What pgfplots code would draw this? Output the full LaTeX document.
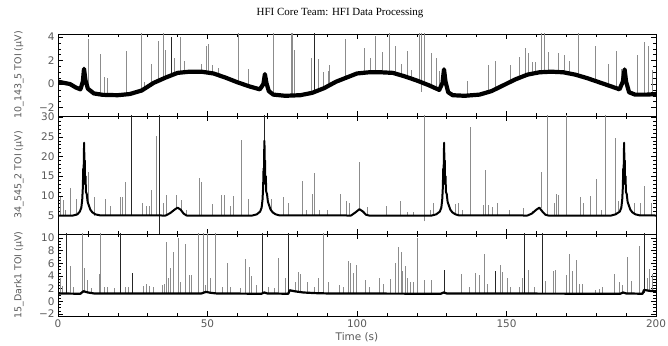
\documentclass[border=0pt]{standalone}
\usepackage{fontspec}
\setmainfont{DejaVu Sans}
\newfontfamily\titlefont{Liberation Serif}
\usepackage{pgfplots}
\pgfplotsset{compat=1.18}
\pgfplotsset{
 panel/.style={scale only axis, width=598bp, anchor=south west,
  xmin=0, xmax=200, xtick={0,50,100,150,200}, minor x tick num=4,
  axis line style={line width=0.7bp}, tick style={black, line width=0.5bp},
  major tick length=5bp, minor tick length=2.8bp,
  tick label style={font=\fontsize{10.5}{12}\selectfont, text=black!65},
  every axis y label/.style={at={(axis description cs:-0.0652,0.5)}, anchor=center, rotate=90, font=\fontsize{9.5}{11}\selectfont, text=black!65},
  every axis x label/.style={at={(axis description cs:0.5,0)}, anchor=center, yshift=-21bp, font=\fontsize{10.5}{12}\selectfont, text=black!65},
  unbounded coords=jump},
 spk/.style={black!45, line width=0.7bp},
 dspk/.style={black!85, line width=0.8bp}
}
\begin{document}
\begin{tikzpicture}
\path[use as bounding box] (0bp,0bp) rectangle (668bp,346bp);
\node[font=\titlefont\fontsize{11}{12}\selectfont] at (340bp,333bp) {HFI Core Team: HFI Data Processing};

% ---------------- Panel 1 ----------------
\begin{axis}[panel, at={(58bp,230bp)}, height=82bp, ymin=-2.72, ymax=4.26,
  ytick={-2,0,2,4}, yticklabels={−2,0,2,4}, minor y tick num=3, xticklabels={},
  ylabel={10\_143\_5 TOI (μV)}]
\addplot[spk] coordinates {
(10.2,-0.5)(10.2,3.8)(10.2,nan) (14.3,-0.9)(14.3,2.55)(14.3,nan) (15.4,-0.9)(15.4,0.6)(15.4,nan)
(16.5,-0.9)(16.5,0.55)(16.5,nan) (23.0,-0.9)(23.0,2.85)(23.0,nan) (27.8,-0.6)(27.8,4.5)(27.8,nan)
(29.0,-0.45)(29.0,0.2)(29.0,nan) (31.2,0)(31.2,1.7)(31.2,nan) (33.4,0.2)(33.4,3.65)(33.4,nan)
(35.3,0.45)(35.3,4.5)(35.3,nan) (35.9,0.5)(35.9,2.9)(35.9,nan) (39.0,0.9)(39.0,2.2)(39.0,nan)
(40.9,1.0)(40.9,4.0)(40.9,nan) (42.4,1.0)(42.4,2.0)(42.4,nan) (47.9,1.05)(47.9,1.7)(47.9,nan)
(49.5,1.0)(49.5,3.2)(49.5,nan) (50.4,1.0)(50.4,3.45)(50.4,nan) (51.7,0.9)(51.7,1.6)(51.7,nan)
(53.5,0.8)(53.5,1.4)(53.5,nan) (60.2,0.15)(60.2,4.5)(60.2,nan) (63.6,-0.15)(63.6,1.3)(63.6,nan)
(72.1,-0.9)(72.1,4.5)(72.1,nan) (78.0,-1.0)(78.0,4.5)(78.0,nan) (78.5,-1.0)(78.5,4.5)(78.5,nan)
(78.9,-1.0)(78.9,2.9)(78.9,nan) (84.7,-0.75)(84.7,2.2)(84.7,nan) (87.2,-0.5)(87.2,2.1)(87.2,nan)
(88.8,-0.35)(88.8,1.0)(88.8,nan) (90.3,-0.15)(90.3,1.1)(90.3,nan) (90.6,-0.1)(90.6,1.6)(90.6,nan)
(96.1,0.5)(96.1,3.8)(96.1,nan) (102.3,0.95)(102.3,3.1)(102.3,nan) (104.5,1.0)(104.5,2.2)(104.5,nan)
(106.2,1.0)(106.2,4.1)(106.2,nan) (108.4,1.0)(108.4,2.75)(108.4,nan) (110.7,1.0)(110.7,4.5)(110.7,nan)
(112.7,0.9)(112.7,3.2)(112.7,nan) (114.8,0.8)(114.8,1.7)(114.8,nan) (116.8,0.6)(116.8,2.85)(116.8,nan)
(118.3,0.45)(118.3,1.2)(118.3,nan) (120.9,0.2)(120.9,4.5)(120.9,nan) (121.6,-0.65)(121.6,4.5)(121.6,nan)
(122.4,0.1)(122.4,4.5)(122.4,nan) (124.9,-0.1)(124.9,2.6)(124.9,nan) (126.6,-0.3)(126.6,2.2)(126.6,nan)
(127.5,-0.5)(127.5,1.1)(127.5,nan) (137.0,-1.0)(137.0,0.3)(137.0,nan) (143.9,-0.7)(143.9,1.6)(143.9,nan)
(146.4,-0.45)(146.4,2.0)(146.4,nan) (151.4,0.2)(151.4,1.6)(151.4,nan) (154.2,0.5)(154.2,2.3)(154.2,nan)
(156.2,0.7)(156.2,3.1)(156.2,nan) (157.3,0.8)(157.3,2.6)(157.3,nan) (158.6,0.85)(158.6,1.9)(158.6,nan)
(159.7,0.95)(159.7,1.9)(159.7,nan) (161.8,1.0)(161.8,4.5)(161.8,nan) (162.6,1.0)(162.6,4.5)(162.6,nan)
(164.1,1.05)(164.1,2.7)(164.1,nan) (167.3,1.0)(167.3,2.6)(167.3,nan) (169.3,1.0)(169.3,2.5)(169.3,nan)
(171.0,0.9)(171.0,2.0)(171.0,nan) (173.9,0.75)(173.9,4.5)(173.9,nan) (179.7,0.25)(179.7,3.2)(179.7,nan)
(184.2,-0.15)(184.2,1.7)(184.2,nan) (186.8,-0.35)(186.8,2.85)(186.8,nan) (188.3,-0.4)(188.3,1.3)(188.3,nan)
(193.7,-0.9)(193.7,2.5)(193.7,nan) (196.1,-0.9)(196.1,3.55)(196.1,nan) (197.6,-0.9)(197.6,3.2)(197.6,nan)
(198.7,-0.9)(198.7,1.2)(198.7,nan)
};
\addplot[dspk] coordinates {(38.0,0.85)(38.0,4.0)(38.0,nan) (85.7,-0.7)(85.7,4.5)(85.7,nan)};
\addplot[black, line width=4.2bp, line join=round] coordinates {
(0,0.2) (2,0.1) (4,0.0) (6,-0.3) (7.5,-0.45) (8.3,0.2) (8.7,1.3) (9.2,0.3) (10,-0.4) (12,-0.8)
(15,-0.92) (20,-0.95) (24,-0.85) (28,-0.55) (32,0.1) (36,0.55) (40,0.95) (44,1.05) (48,1.05)
(52,0.9) (56,0.55) (60,0.15) (64,-0.2) (67.5,-0.45) (68.7,0) (69.2,0.85) (69.7,0.1) (70.5,-0.6)
(72,-0.9) (76,-1.0) (81,-0.95) (85,-0.75) (89,-0.35) (93,0.2) (97,0.6) (100,0.9) (104,1.0)
(108,1.0) (112,0.95) (116,0.65) (120,0.3) (124,-0.1) (127.5,-0.5) (128.6,0.1) (129.1,1.25)
(129.6,0.2) (130.5,-0.7) (132,-0.95) (136,-1.0) (141,-0.9) (145,-0.6) (149,-0.1) (153,0.4)
(157,0.8) (161,1.0) (165,1.05) (169,1.0) (173,0.8) (177,0.5) (181,0.15) (185,-0.2) (187.8,-0.45)
(188.9,0.2) (189.5,1.25) (190,0.2) (191,-0.7) (193,-0.9) (197,-0.9) (200,-0.85)
};
\end{axis}

% ---------------- Panel 2 ----------------
\begin{axis}[panel, at={(58bp,112bp)}, height=118bp, ymin=0.3, ymax=30.3,
  ytick={5,10,15,20,25,30}, yticklabels={5,10,15,20,25,30}, minor y tick num=4, xticklabels={},
  ylabel={34\_545\_2 TOI (μV)}]
\addplot[spk] coordinates {
(0.7,5)(0.7,9.8)(0.7,nan) (1.7,5)(1.7,9.0)(1.7,nan) (2.5,5)(2.5,6.5)(2.5,nan) (4.0,5)(4.0,12.1)(4.0,nan)
(6.2,5)(6.2,9.3)(6.2,nan) (10.1,8)(10.1,16)(10.1,nan) (12.3,5)(12.3,9.7)(12.3,nan) (15.7,5)(15.7,9.3)(15.7,nan)
(17.4,5)(17.4,7.5)(17.4,nan) (20.7,5)(20.7,9.8)(20.7,nan) (21.5,5)(21.5,9.8)(21.5,nan) (22.4,5)(22.4,13.6)(22.4,nan)
(28.3,5)(28.3,8.3)(28.3,nan) (29.5,5)(29.5,7.3)(29.5,nan) (30.6,5)(30.6,7.3)(30.6,nan) (31.2,5)(31.2,11.5)(31.2,nan)
(32.8,5)(32.8,25.3)(32.8,nan) (35.2,5)(35.2,8.3)(35.2,nan) (36.3,5)(36.3,10.1)(36.3,nan) (39.7,6.8)(39.7,10.2)(39.7,nan)
(41.3,6.2)(41.3,9)(41.3,nan) (43,5)(43,6.5)(43,nan) (47.2,5)(47.2,14.5)(47.2,nan) (48,5)(48,13.6)(48,nan)
(51.5,5)(51.5,7.8)(51.5,nan) (54.6,5)(54.6,10.2)(54.6,nan) (55.8,5)(55.8,10.2)(55.8,nan) (57.5,5)(57.5,7.5)(57.5,nan)
(58.5,5)(58.5,10)(58.5,nan) (61.2,5)(61.2,24.2)(61.2,nan) (63.8,5)(63.8,9.3)(63.8,nan) (71.5,6.2)(71.5,9.2)(71.5,nan)
(75.3,5)(75.3,9.7)(75.3,nan) (77,5)(77,8.2)(77,nan) (81.6,5)(81.6,13.7)(81.6,nan) (83.2,5)(83.2,6.5)(83.2,nan)
(85,5)(85,10.4)(85,nan) (85.9,5)(85.9,15.9)(85.9,nan) (87.5,5)(87.5,6.5)(87.5,nan) (90,5)(90,6.5)(90,nan)
(94.5,5)(94.5,10.4)(94.5,nan) (96.5,5)(96.5,8.6)(96.5,nan) (97.3,5)(97.3,8.2)(97.3,nan) (100.8,6.5)(100.8,18.5)(100.8,nan)
(103.5,5)(103.5,7.2)(103.5,nan) (109.8,5)(109.8,7.3)(109.8,nan) (114.6,5)(114.6,8.8)(114.6,nan) (117,5)(117,6)(117,nan)
(119,5)(119,5.8)(119,nan) (122.6,3.5)(122.6,31)(122.6,nan) (124.5,5)(124.5,6.5)(124.5,nan) (125.5,5)(125.5,8.3)(125.5,nan)
(132.8,5.2)(132.8,8.0)(132.8,nan) (133.8,5)(133.8,8.3)(133.8,nan) (135.2,5)(135.2,6.5)(135.2,nan) (138,5)(138,27.6)(138,nan)
(142.3,5)(142.3,7.6)(142.3,nan) (143,5)(143,16.6)(143,nan) (143.9,5)(143.9,7.7)(143.9,nan) (145.3,5)(145.3,7.2)(145.3,nan)
(147.1,5)(147.1,8.3)(147.1,nan) (150.8,5)(150.8,6.5)(150.8,nan) (155.8,5)(155.8,6.8)(155.8,nan) (158.6,5.5)(158.6,6.2)(158.6,nan)
(161.7,6.8)(161.7,16)(161.7,nan) (163.7,5)(163.7,31)(163.7,nan) (166,5)(166,8.3)(166,nan) (166.7,5)(166.7,10.4)(166.7,nan)
(167.5,5)(167.5,10.2)(167.5,nan) (170.1,5)(170.1,31)(170.1,nan) (174.7,5)(174.7,9.6)(174.7,nan) (175.8,5)(175.8,8.2)(175.8,nan)
(178.1,5)(178.1,10)(178.1,nan) (179.9,5)(179.9,14.3)(179.9,nan) (181.8,5)(181.8,6.5)(181.8,nan) (183.2,5)(183.2,31)(183.2,nan)
(186.3,5.4)(186.3,24.6)(186.3,nan) (187.4,6.2)(187.4,8.8)(187.4,nan) (192.7,5.5)(192.7,8.2)(192.7,nan) (194.9,5)(194.9,8.3)(194.9,nan)
(196.1,5)(196.1,12.6)(196.1,nan) (198.4,5)(198.4,8.3)(198.4,nan)
};
\addplot[dspk] coordinates {(24.5,5)(24.5,31)(24.5,nan) (33.9,0)(33.9,31)(33.9,nan) (69.1,20)(69.1,31)(69.1,nan)};
\addplot[black, line width=2bp, line join=round] coordinates {
(0,5.0) (5,5) (6.5,5.3) (7.3,6) (7.8,7) (8.1,9) (8.3,12) (8.45,17) (8.55,13) (8.65,21) (8.75,23.5)
(8.85,15) (8.95,19) (9.05,13) (9.2,15) (9.35,11) (9.6,10.5) (9.9,8.5) (10.3,7.6) (10.8,6.5) (11.5,5.8)
(12.5,5.3) (14,5.05) (36,5) (37.5,5.6) (39,6.5) (40,7) (41,6.5) (42,5.5) (43,5)
(65,5) (66.5,5.3) (67.6,6) (68.1,7) (68.4,9) (68.6,12) (68.75,17) (68.85,13) (68.95,21) (69.05,24)
(69.15,15) (69.25,19) (69.35,13) (69.5,15) (69.65,11) (69.9,10.5) (70.2,8.5) (70.6,7.6) (71.1,6.5) (71.8,5.8)
(72.8,5.3) (74,5.05) (98,5) (99.5,5.8) (100.8,6.6) (102,6.0) (103,5.2) (104,5)
(125,5) (126.5,5.3) (127.7,6) (128.2,7) (128.5,9) (128.7,12) (128.85,17) (128.95,13) (129.05,21) (129.15,23.5)
(129.25,15) (129.35,19) (129.45,13) (129.6,15) (129.75,11) (130,10.5) (130.3,8.5) (130.7,7.6) (131.2,6.5) (131.9,5.8)
(132.9,5.3) (134,5.05) (157,5) (158.5,5.5) (160,6.5) (161,7) (162,6) (163,5.2) (164,5)
(185,5) (186.5,5.3) (187.9,6) (188.4,7) (188.7,9) (188.9,12) (189.05,17) (189.15,13) (189.25,21) (189.35,23.5)
(189.45,15) (189.55,19) (189.65,13) (189.8,15) (189.95,11) (190.2,10.5) (190.5,8.5) (190.9,7.6) (191.4,6.5) (192.1,5.8)
(193.1,5.3) (194.5,5.05) (200,5)
};
\end{axis}

% ---------------- Panel 3 ----------------
\begin{axis}[panel, at={(58bp,30bp)}, height=82bp, ymin=-2.3, ymax=10.6,
  ytick={-2,0,2,4,6,8,10}, yticklabels={−2,0,2,4,6,8,10}, minor y tick num=3,
  xticklabels={0,50,100,150,200}, xlabel={Time (s)},
  ylabel={15\_Dark1 TOI (μV)}]
\addplot[spk] coordinates {
(0.7,1.25)(0.7,3.75)(0.7,nan) (1.5,1.25)(1.5,2.4)(1.5,nan) (4.0,1.25)(4.0,5.6)(4.0,nan) (5.2,1.25)(5.2,2.3)(5.2,nan)
(8.8,1.4)(8.8,5.3)(8.8,nan) (9.9,1.3)(9.9,3.3)(9.9,nan) (11.3,1.25)(11.3,2.1)(11.3,nan) (13.8,1.25)(13.8,4.3)(13.8,nan)
(14.3,1.25)(14.3,11)(14.3,nan) (8.2,1.25)(8.2,11)(8.2,nan)
(15.5,1.25)(15.5,2.2)(15.5,nan) (16.5,1.25)(16.5,2.2)(16.5,nan) (19,1.25)(19,2.1)(19,nan) (22.5,1.25)(22.5,2.2)(22.5,nan)
(23.6,1.25)(23.6,2.3)(23.6,nan) (28.4,1.25)(28.4,2.4)(28.4,nan) (29.7,1.25)(29.7,2.8)(29.7,nan) (30.5,1.25)(30.5,2.4)(30.5,nan)
(31.8,1.25)(31.8,2.2)(31.8,nan) (34.9,1.25)(34.9,2.5)(34.9,nan) (35.7,1.25)(35.7,2.7)(35.7,nan) (36.1,1.25)(36.1,9.3)(36.1,nan)
(36.8,1.25)(36.8,3.7)(36.8,nan) (37.6,1.25)(37.6,5.3)(37.6,nan) (38.6,1.25)(38.6,7.8)(38.6,nan) (40.3,1.25)(40.3,9.9)(40.3,nan)
(41,1.25)(41,3.1)(41,nan) (42.5,1.25)(42.5,9.0)(42.5,nan) (43.9,1.25)(43.9,4.1)(43.9,nan) (44.7,1.25)(44.7,4.2)(44.7,nan)
(47.0,1.25)(47.0,11)(47.0,nan) (48.5,1.25)(48.5,11)(48.5,nan) (49.3,1.25)(49.3,2.5)(49.3,nan) (50.1,1.3)(50.1,11)(50.1,nan)
(50.9,1.3)(50.9,3.6)(50.9,nan) (52.6,1.25)(52.6,11)(52.6,nan) (54.8,1.25)(54.8,2.2)(54.8,nan) (56.5,1.25)(56.5,6.1)(56.5,nan)
(57.8,1.25)(57.8,2.2)(57.8,nan) (61,1.25)(61,2.1)(61,nan) (62.6,1.25)(62.6,6.6)(62.6,nan) (64,1.25)(64,5.4)(64,nan)
(64.8,1.25)(64.8,4.0)(64.8,nan) (66.5,1.25)(66.5,2.5)(66.5,nan) (70.5,1.25)(70.5,2.2)(70.5,nan) (72.2,1.25)(72.2,2.1)(72.2,nan)
(73.6,1.25)(73.6,6.9)(73.6,nan) (76,1.25)(76,3.7)(76,nan) (79.3,1.6)(79.3,3.0)(79.3,nan) (80.3,1.5)(80.3,4.6)(80.3,nan)
(81.2,1.4)(81.2,4.3)(81.2,nan) (83.3,1.35)(83.3,3.0)(83.3,nan) (85.8,1.3)(85.8,2.2)(85.8,nan) (87.2,1.3)(87.2,3.6)(87.2,nan)
(88.9,1.25)(88.9,11)(88.9,nan)
(90.5,1.25)(90.5,3.1)(90.5,nan) (94.2,1.25)(94.2,2.6)(94.2,nan) (95.6,1.25)(95.6,2.3)(95.6,nan) (97.1,1.25)(97.1,6.4)(97.1,nan)
(97.9,1.25)(97.9,6.0)(97.9,nan) (98.8,1.25)(98.8,4.5)(98.8,nan) (99.7,1.25)(99.7,5.8)(99.7,nan) (102.7,1.25)(102.7,3.3)(102.7,nan)
(104.1,1.25)(104.1,2.2)(104.1,nan) (107.4,1.25)(107.4,3.7)(107.4,nan) (108.9,1.25)(108.9,2.8)(108.9,nan) (111.1,1.25)(111.1,3.5)(111.1,nan)
(112.7,1.25)(112.7,6.1)(112.7,nan) (113.8,1.25)(113.8,8.5)(113.8,nan) (114.8,1.25)(114.8,7.7)(114.8,nan) (115.3,1.25)(115.3,4.8)(115.3,nan)
(116.1,1.25)(116.1,5.6)(116.1,nan) (116.9,1.25)(116.9,3.7)(116.9,nan) (117.8,1.25)(117.8,3.0)(117.8,nan) (119,1.25)(119,3.0)(119,nan)
(120.2,1.25)(120.2,9.9)(120.2,nan)
(122.5,1.25)(122.5,3.3)(122.5,nan) (124.7,1.25)(124.7,3.3)(124.7,nan) (135,1.25)(135,4.3)(135,nan) (137.6,1.25)(137.6,2.2)(137.6,nan)
(139.5,1.25)(139.5,4.4)(139.5,nan) (140.8,1.25)(140.8,4.2)(140.8,nan) (142.5,1.25)(142.5,7.4)(142.5,nan) (143.6,1.25)(143.6,2.8)(143.6,nan)
(147.8,1.25)(147.8,5.7)(147.8,nan) (148.6,1.25)(148.6,4.6)(148.6,nan) (150.3,1.25)(150.3,3.7)(150.3,nan) (151.4,1.25)(151.4,2.2)(151.4,nan)
(154.2,1.25)(154.2,2.3)(154.2,nan) (155.3,1.25)(155.3,3.6)(155.3,nan) (157.4,1.25)(157.4,5.0)(157.4,nan) (159.3,1.25)(159.3,2.2)(159.3,nan)
(163,1.25)(163,3.2)(163,nan) (165.5,1.25)(165.5,4.8)(165.5,nan) (166.2,1.25)(166.2,4.9)(166.2,nan) (170.1,1.25)(170.1,4.1)(170.1,nan)
(171,1.25)(171,7.4)(171,nan) (172.1,1.25)(172.1,4.8)(172.1,nan) (173.5,1.25)(173.5,6.5)(173.5,nan) (174.3,1.25)(174.3,2.7)(174.3,nan)
(175.4,1.25)(175.4,2.7)(175.4,nan) (179.6,1.25)(179.6,1.8)(179.6,nan) (181,1.25)(181,2.0)(181,nan) (182.1,1.25)(182.1,2.2)(182.1,nan)
(186,1.25)(186,4.3)(186,nan) (187.6,1.25)(187.6,3.0)(187.6,nan) (188.7,1.25)(188.7,2.6)(188.7,nan) (190.5,1.25)(190.5,7.0)(190.5,nan)
(191.9,1.25)(191.9,3.2)(191.9,nan) (194.4,1.25)(194.4,8.7)(194.4,nan) (197.2,1.7)(197.2,3.7)(197.2,nan) (197.7,1.7)(197.7,5.1)(197.7,nan)
(198.8,1.65)(198.8,4.3)(198.8,nan)
};
\addplot[dspk] coordinates {
(2.9,1.25)(2.9,11)(2.9,nan) (20.8,1.25)(20.8,11)(20.8,nan) (24.9,1.25)(24.9,4.5)(24.9,nan) (68.2,1.25)(68.2,11)(68.2,nan)
(77.2,1.25)(77.2,11)(77.2,nan) (129.3,1.25)(129.3,4.9)(129.3,nan) (146.4,1.25)(146.4,4.8)(146.4,nan)
(155.9,1.25)(155.9,11)(155.9,nan) (162,1.25)(162,11)(162,nan) (196.1,1.25)(196.1,11)(196.1,nan)
};
\addplot[black, line width=2.2bp, line join=round] coordinates {
(0,1.25) (7.5,1.2) (8.5,1.6) (10,1.4) (12,1.25) (48,1.25) (49.5,1.5) (51,1.35) (53,1.25) (68,1.2)
(69,1.4) (70,1.25) (77,1.2) (77.5,1.75) (79,1.6) (82,1.4) (86,1.3) (90,1.25) (128,1.2) (129,1.4)
(130,1.25) (188,1.2) (189,1.4) (190,1.25) (195.5,1.2) (196,1.8) (198,1.65) (200,1.6)
};
\end{axis}
\end{tikzpicture}
\end{document}
